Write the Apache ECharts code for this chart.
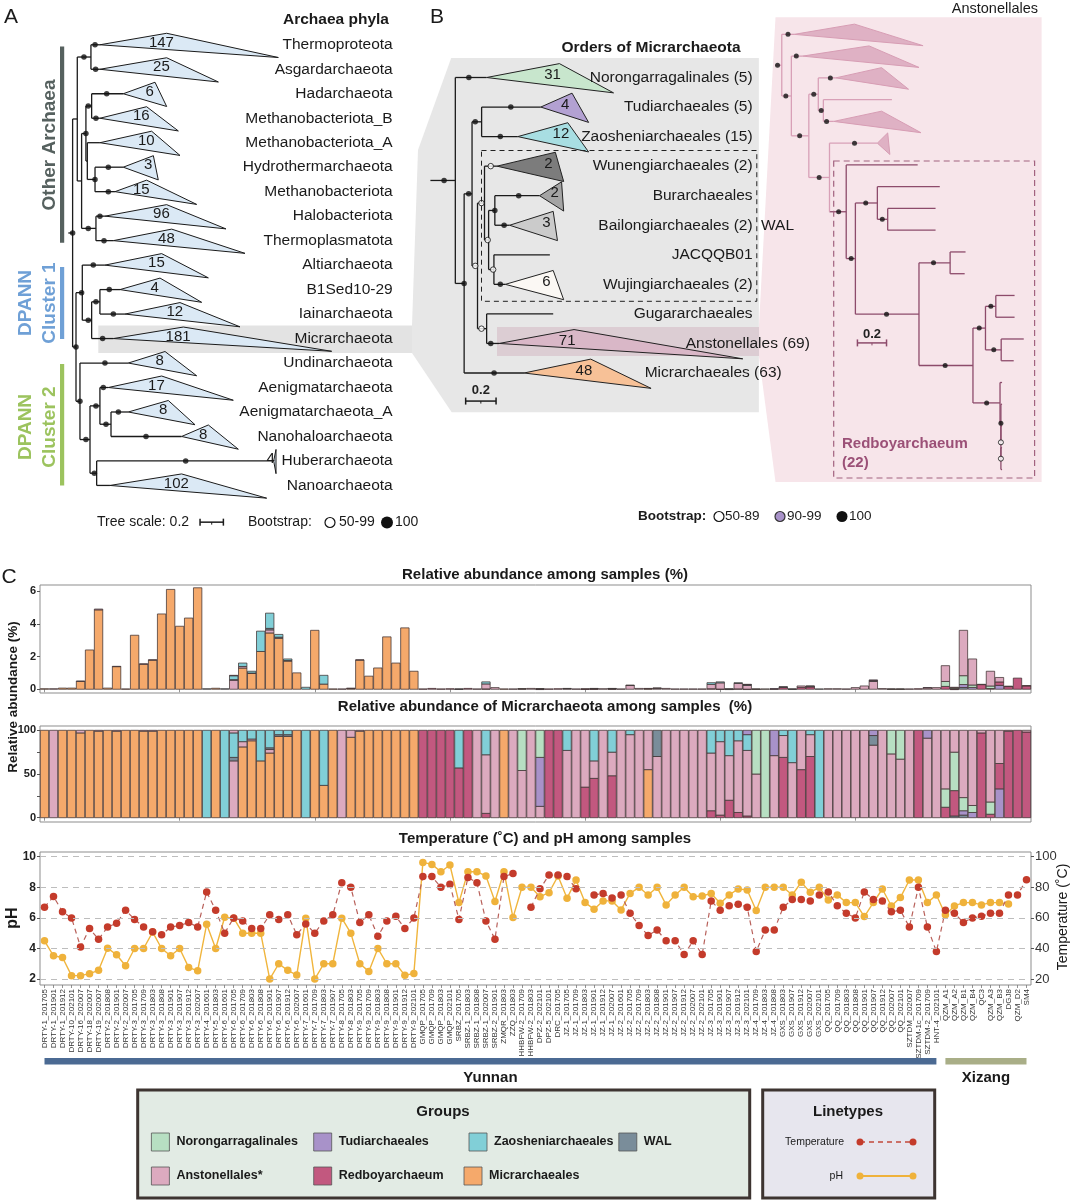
<!DOCTYPE html>
<html>
<head>
<meta charset="utf-8">
<title>Micrarchaeota phylogeny and abundance</title>
<script src="https://cdn.jsdelivr.net/npm/echarts@6.0.0/dist/echarts.min.js"></script>
<style>
html,body{margin:0;padding:0;background:#ffffff;}
#chart{width:1072px;height:1200px;}
</style>
</head>
<body>
<div id="chart"></div>
<script>
// ================= DATA =================
const samples = ['DRTY-1_201705','DRTY-1_201901','DRTY-1_201912','DRTY-10_202101','DRTY-16_202007','DRTY-18_202007','DRTY-19_202007','DRTY-2_201808','DRTY-2_201901','DRTY-2_202007',
'DRTY-3_201705','DRTY-3_201709','DRTY-3_201803','DRTY-3_201808','DRTY-3_201901','DRTY-3_201907','DRTY-3_201912','DRTY-3_202007','DRTY-4_201601','DRTY-5_201803',
'DRTY-6_201601','DRTY-6_201705','DRTY-6_201709','DRTY-6_201803','DRTY-6_201808','DRTY-6_201901','DRTY-6_201907','DRTY-6_201912','DRTY-6_202007','DRTY-7_201601',
'DRTY-7_201709','DRTY-7_201803','DRTY-7_201907','DRTY-8_201705','DRTY-8_201803','DRTY-9_201705','DRTY-9_201709','DRTY-9_201803','DRTY-9_201808','DRTY-9_201901',
'DRTY-9_201912','DRTY-9_202101','GMQP_201705','GMQP_201709','GMQP_201803','GMQP_202101','SRBZ_201705','SRBZ-1_201803','SRBZ-1_201808','SRBZ-1_202007',
'SRBZ-2_201901','ZMQR_201803','ZZQ_201803','HHBFW-2_201709','HHBFW-2_201803','DPZ-2_202101','DPZ-5_202101','DRC_201705','JZ-1_201705','JZ-1_201709',
'JZ-1_201803','JZ-1_201901','JZ-1_201912','JZ-1_202007','JZ-2_201601','JZ-2_201705','JZ-2_201709','JZ-2_201803','JZ-2_201808','JZ-2_201901',
'JZ-2_201907','JZ-2_201912','JZ-2_202007','JZ-2_202101','JZ-3_201705','JZ-3_201901','JZ-3_201907','JZ-3_201912','JZ-3_202101','JZ-4_201709',
'JZ-4_201803','JZ-4_201808','GXS_201803','GXS_201907','GXS_201912','GXS_202007','GXS_202101','QQ_201705','QQ_201709','QQ_201803',
'QQ_201808','QQ_201901','QQ_201907','QQ_201912','QQ_202007','QQ_202101','SZTDM_202007','SZTDM-1c_201709','SZTDM-2_201709','HNT-4_202101',
'QZM_A1','QZM_A2','QZM_B1','QZM_B4','QC3','QZM_A3','QZM_B3','DGJ8','QZM_D2','SM4'];

// Relative abundance of Micrarchaeota among samples (%)
const abundance = [0.03,0.03,0.07,0.07,0.5,2.4,4.9,0.07,1.4,0.02,
 3.3,1.55,1.8,4.6,6.1,3.85,4.35,6.2,0.03,0.06,
 0.03,0.85,1.6,1.1,3.55,4.65,3.35,1.85,1.0,0.12,
 3.6,0.85,0.02,0.02,0.06,1.8,0.8,1.3,3.2,1.6,
 3.75,1.1,0.02,0.05,0.02,0.03,0.02,0.05,0.02,0.45,
 0.1,0.02,0.02,0.04,0.05,0.04,0.02,0.03,0.05,0.02,
 0.03,0.05,0.03,0.05,0.02,0.25,0.05,0.05,0.08,0.05,
 0.02,0.02,0.02,0.02,0.4,0.45,0.02,0.4,0.3,0.02,
 0.02,0.03,0.15,0.02,0.2,0.2,0.02,0.03,0.03,0.02,
 0.1,0.2,0.57,0.04,0.02,0.02,0.02,0.03,0.1,0.1,
 1.44,0.12,3.6,1.85,0.3,1.1,0.72,0.18,0.68,0.22];

// Group composition of each sample (%), listed bottom to top
const composition = [
'M100','A100','M100','M100','M97 A3','M100','M99 A1','M100','M99 A1','M100',
'M100','M99 A1','M99 A1','M100','M100','M100','M100','M100','Z100','M100',
'Z100','A65 W4 Z28 A3','M81 A6 Z13','M88 A2 Z10','M65 Z35','M74 A4 W2 Z20','M93 W2 Z5','M93 W2 Z5','M100','Z100',
'M100','M37 Z63','M100','A100','M92 A8','M99 A1','M100','M100','M100','M100',
'M100','M100','R100','R100','R100','R100','R57 Z43','R100','A100','R5 A67 Z28',
'A100','M100','A100','A54 N46','A100','A13 T56 N31','R100','R100','A77 Z23','A100',
'R35 A65','R45 A20 Z35','A100','R48 A27 Z25','A100','A95 Z5','A100','M55 A45','A70 W30','A100',
'A100','A100','A100','A100','R8 A66 Z26','R3 A84 Z13','R20 A51 Z29','R6 A82 Z12','R2 A75 Z18 T5','A50 N50',
'N100','A71 T29','R69 A25 Z6','A63 Z37','R55 A45','R70 A25 Z5','Z100','A100','A100','A100',
'A100','A100','A83 W11 T6','A100','A73 N27','A67 N33','A100','R100','A91 T9','A100',
'R12 N21 A67','W2 R29 N44 A25','W3 T5 N15 A77','T6 N8 A86','R97 A3','R4 N14 A82','T33 R29 A38','R99 A1','R100','R98 A2'];

const temperature = [67,74,64,60,41,53,46,54,56.5,65,
 59,54,51,49,54,55,57,54,77,65,
 50,60,58,53,53,62,59,62,49,56,
 50,58,62,83,80,57,62,48,58,61,
 53,60,87,87,80,82,59,86.5,83,58,
 46,87,89,null,67,79,88,88,87,79,
 null,75,76,73,75,63,55,48.5,52,45,
 45,36,45,36,71,65,68,69,67,38,
 52,52,67,72,72,71,75,77,68,63,
 60,77,72,71,64,65,54,80,54,38,
 65,63,57,60,61,63,63,75,75,85];

const ph = [4.5,3.52,3.41,2.22,2.22,2.35,2.57,4.02,3.59,2.87,
 4.0,4.0,5.07,4.0,3.52,4.0,2.76,2.54,5.59,4.0,
 6.04,5.98,5.0,5.0,5.0,2.0,3.0,2.57,2.26,5.98,
 2.0,3.0,3.0,5.98,5.0,3.0,2.5,4.0,3.0,3.0,
 2.24,2.37,9.63,9.5,9.02,9.46,7.0,9.02,9.02,8.74,
 7.07,9.02,6.02,8.0,8.0,7.39,7.65,8.74,7.28,8.48,
 7.0,6.57,7.11,7.11,6.52,7.6,8.0,7.5,8.0,6.85,
 7.5,8.0,7.39,7.43,7.6,6.96,7.5,7.89,7.83,6.48,
 8.0,8.0,8.0,7.5,8.33,7.67,8.0,7.17,7.5,7.0,
 7.0,6.09,7.0,7.89,6.78,7.33,8.48,8.48,7.0,7.5,
 6.2,6.78,7.0,7.0,6.85,7.0,7.0,6.91,null,null];

const groupCodes = ['N','T','Z','W','A','R','M'];
const groupNames = ['Norongarragalinales','Tudiarchaeales','Zaosheniarchaeales','WAL','Anstonellales*','Redboyarchaeum','Micrarchaeales'];
const groupColors = ['#b7dfc2','#a892c9','#81cfd7','#7a8d9a','#dcaabf','#c2587f','#f5a96b'];
const regions = ['Yunnan','Xizang'];
const regionSpan = [[0,99],[100,109]];
const regionColors = ['#4b6a93','#a9ae87'];
const phTicks = [2,4,6,8,10];
const tempTicks = [20,40,60,80,100];
const abundTicks = [0,2,4,6];
const pctTicks = [0,50,100];

// ---- Panel A: archaeal phyla tree (branch lengths in substitutions/site, rows top to bottom)
const phylaA = ['Thermoproteota','Asgardarchaeota','Hadarchaeota','Methanobacteriota_B','Methanobacteriota_A','Hydrothermarchaeota','Methanobacteriota','Halobacteriota','Thermoplasmatota','Altiarchaeota','B1Sed10-29','Iainarchaeota','Micrarchaeota','Undinarchaeota','Aenigmatarchaeota','Aenigmatarchaeota_A','Nanohaloarchaeota','Huberarchaeota','Nanoarchaeota'];
const cladeSizeA = [147,25,6,16,10,3,15,96,48,15,4,12,181,8,17,8,8,4,102];
// [support node, clade root, shortest tip, longest tip]
const cladeA = [
 [0.229,0.271,0.843,1.800],[0.234,0.271,0.843,1.286],[0.329,0.471,0.743,0.843],[0.237,0.271,0.671,0.943],
 [null,0.271,0.714,0.957],[0.343,0.471,0.729,0.771],[0.343,0.400,0.671,1.100],[0.271,0.314,0.843,1.351],
 [0.306,0.386,0.886,1.514],[0.214,0.314,0.800,1.200],[0.351,0.443,0.786,1.143],[0.386,0.486,0.957,1.471],
 [0.294,0.386,0.986,2.257],[0.314,0.514,0.829,1.100],[0.300,0.343,0.800,1.414],[0.429,0.514,0.857,1.086],
 [0.666,0.971,1.200,1.457],[1.006,1.760,1.780,1.780],[null,0.357,0.971,1.700]];
const treeA = {x:0.037, dot:0.037, kids:[
  {x:0.077, kids:[
    {x:0.194, dot:0.134, kids:[0,1]},
    {x:0.114, kids:[
      {x:0.151, dot:0.151, kids:[
        {x:0.200, dot:0.171, kids:[2,3]},
        {x:0.163, kids:[4, {x:0.229, dot:0.229, kids:[5,6]}]}]},
      {x:0.237, dot:0.171, kids:[7,8]}]}]},
  {x:0.066, dot:0.066, kids:[
    {x:0.120, dot:0.114, kids:[9, {x:0.200, dot:0.171, kids:[{x:0.271, dot:0.237, kids:[10,11]}, 12]}]},
    {x:0.100, dot:0.100, kids:[13, {x:0.186, dot:0.151, kids:[
      {x:0.271, dot:0.237, kids:[14, {x:0.366, dot:0.323, kids:[15,16]}]},
      {x:0.243, dot:0.223, kids:[17,18]}]}]}]}]};

// ---- Panel B: orders of Micrarchaeota
const ordersB = ['Norongarragalinales (5)','Tudiarchaeales (5)','Zaosheniarchaeales (15)','Wunengiarchaeales (2)','Burarchaeales','Bailongiarchaeales (2)','JACQQB01','Wujingiarchaeales (2)','Gugararchaeales','Anstonellales (69)','Micrarchaeales (63)'];
const cladeSizeB = [31,4,12,2,2,3,null,6,null,71,48];
const cladeFillB = ['#c8e6cd','#b3a1d2','#a8dee2','#7c7c7c','#a4a4a4','#cbcbcb','#ffffff','#fbf8f4','#ffffff','#d9b7c7','#f7c197'];
const cladeB = [
 [0.253,0.370,0.849,1.205],[0.529,0.726,0.932,1.041],[0.460,0.575,0.904,1.041],[0.397,0.438,0.822,0.877],
 [0.581,0.718,0.863,0.877],[0.485,0.521,0.808,0.836],[null,0.786],[0.460,0.493,0.808,0.877],
 [null,0.808],[0.397,0.452,0.945,2.055],[0.419,0.616,1.055,1.452]];
const openLeavesB = [3];
const labelStartB = {9:1.68, 10:1.41};
const treeB = {x:0.164, dot:0.090, kids:[0, {x:0.222, dot:0.222, kids:[
  {x:0.274, dot:0.252, kids:[
    {x:0.337, dot:0.295, kids:[1,2]},
    {x:0.310, dot:0.295, open:true, kids:[
      {x:0.356, dot:0.336, open:true, kids:[3, {x:0.383, dot:0.377, open:true, kids:[{x:0.424, dot:0.424, kids:[4,5]}, {x:0.418, dot:0.413, open:true, kids:[6,7]}]}]},
      {x:0.370, dot:0.336, open:true, kids:[8,9]}]}]}, 10]}]};

// ---- Panel B inset: Anstonellales with Redboyarchaeum (rb)
const cladeP = [
 [0.086,0.129,0.543,1.014],[0.143,0.186,0.643,0.986],[0.377,0.414,0.729,0.914],[null,0.800],
 [0.351,0.400,0.729,1.000],[0.543,0.700,0.771,0.786],[null,0.977],[null,1.129],[null,1.100],[null,1.100],
 [null,1.306],[null,1.300],[null,1.643],[null,1.643],[null,1.706],[null,1.637],
 [null,1.557],[null,1.557],[null,1.557],[null,1.557],[null,1.557]];
const treeP = {x:0.043, dot:0.014, kids:[0, {x:0.109, dot:0.071, kids:[1, {x:0.229, dot:0.166, kids:[
  {x:0.294, dot:0.263, kids:[2, {x:0.329, dot:0.314, kids:[3,4]}]},
  {x:0.371, dot:0.300, kids:[5, {x:0.486, dot:0.434, rb:true, kids:[6, {x:0.549, dot:0.520, kids:[
    {x:0.700, dot:0.620, kids:[7, {x:0.771, dot:0.734, kids:[8,9]}]},
    {x:0.986, dot:0.763, kids:[
      {x:1.200, dot:1.086, kids:[10,11]},
      {x:1.357, dot:1.166, kids:[
        {x:1.443, dot:1.400, kids:[{x:1.514, dot:1.480, kids:[12,13]}, {x:1.551, dot:1.500, kids:[14,15]}]},
        {x:1.543, dot:1.451, kids:[16, {x:1.549, dot:1.549, kids:[17, {x:1.549, dot:1.549, open:true, kids:[18, {x:1.549, dot:1.549, open:true, kids:[19,20]}]}]}]}]}]}]}]}]}]}]}]};

// ================= BUILD =================
const FONT = '"Liberation Sans", Arial, Helvetica, sans-serif';

function layoutTree(tree, clade, openLeaves){
  const segs=[], tris=[], dots=[];
  function walk(n, px, col){
    if (typeof n === 'number'){
      const c = clade[n];
      if (px != null) segs.push([px, n, c[1], n, col]);
      if (c.length > 2 && c[2] != null) tris.push([c[1], n, c[2], c[3], n, col]);
      if (c[0] != null) dots.push([c[0], n, openLeaves.indexOf(n) >= 0 ? 1 : 0]);
      return n;
    }
    const c2 = n.rb ? 1 : col;
    const ys = n.kids.map(k => walk(k, n.x, c2));
    const y = (ys[0] + ys[ys.length-1]) / 2;
    segs.push([n.x, ys[0], n.x, ys[ys.length-1], c2]);
    if (px != null) segs.push([px, y, n.x, y, c2]);
    if (n.dot != null) dots.push([n.dot, y, n.open ? 1 : 0]);
    return y;
  }
  const ry = walk(tree, null, 0);
  segs.push([0, ry, tree.x, ry, 0]);
  return {segs, tris, dots};
}

const LA = layoutTree(treeA, cladeA, []);
const LB = layoutTree(treeB, cladeB, openLeavesB);
const LP = layoutTree(treeP, cladeP, []);

function treeSeries(gi, L, o){
  return [
    {type:'custom', xAxisIndex:gi, yAxisIndex:gi, z:3, silent:true, data:L.segs, encode:{x:[0,2], y:[1,3]},
     renderItem:(p, api) => {
       const a = api.coord([api.value(0), api.value(1)]), b = api.coord([api.value(2), api.value(3)]);
       return {type:'line', shape:{x1:a[0], y1:a[1], x2:b[0], y2:b[1]}, style:{stroke:o.lineColors[api.value(4)], lineWidth:o.lw}};
     }},
    {type:'custom', xAxisIndex:gi, yAxisIndex:gi, z:4, silent:true, data:L.tris, encode:{x:[0,2], y:1},
     renderItem:(p, api) => {
       const r = api.value(1);
       const a = api.coord([api.value(0), r]), t = api.coord([api.value(2), r-0.47]), b = api.coord([api.value(3), r+0.52]);
       return {type:'polygon', shape:{points:[a,t,b]}, style:{fill:o.fill(api.value(4)), stroke:o.triStroke, lineWidth:1}};
     }},
    {type:'scatter', xAxisIndex:gi, yAxisIndex:gi, z:6, silent:true, symbolSize:o.dot,
     data:L.dots.filter(d => !d[2]).map(d => [d[0], d[1]]), itemStyle:{color:'#111'}},
    {type:'scatter', xAxisIndex:gi, yAxisIndex:gi, z:6, silent:true, symbolSize:o.dot,
     data:L.dots.filter(d => d[2]).map(d => [d[0], d[1]]), itemStyle:{color:'#fff', borderColor:'#111', borderWidth:1}}
  ];
}

function nameSeries(gi, names, size, starts){
  return {type:'custom', xAxisIndex:gi, yAxisIndex:gi, z:7, silent:true,
    data:names.map((n, i) => [0, i]), encode:{x:0, y:1},
    renderItem:(p, api) => {
      const cs = p.coordSys, i = p.dataIndex;
      const pt = api.coord([0, api.value(1)]);
      const st = starts && starts[i] != null ? api.coord([starts[i], 0])[0] : null;
      return {type:'text', x: st != null ? st : cs.x + cs.width, y: pt[1],
        style:{text:names[i], fill:'#1a1a1a', fontSize:size, fontFamily:FONT, align: st != null ? 'left' : 'right', verticalAlign:'middle'}};
    }};
}

function countSeries(gi, L, sizes, fsz){
  const data = L.tris.map(t => [t[2] - 0.045, t[1] - 0.08, sizes[t[4]]]);
  return {type:'custom', xAxisIndex:gi, yAxisIndex:gi, z:7, silent:true, data, encode:{x:0, y:1},
    renderItem:(p, api) => {
      const pt = api.coord([api.value(0), api.value(1)]);
      return {type:'text', x:pt[0], y:pt[1], style:{text:String(data[p.dataIndex][2]), fill:'#1a1a1a', fontSize:fsz, fontFamily:FONT, align:'center', verticalAlign:'middle'}};
    }};
}

function scaleBar(gi, x0, x1, row, labelRow, color){
  return {type:'custom', xAxisIndex:gi, yAxisIndex:gi, z:7, silent:true, data:[[x0, row, x1]], encode:{x:[0,2], y:1},
    renderItem:(p, api) => {
      const a = api.coord([api.value(0), api.value(1)]), b = api.coord([api.value(2), api.value(1)]);
      const ch = [
        {type:'line', shape:{x1:a[0], y1:a[1], x2:b[0], y2:b[1]}, style:{stroke:color, lineWidth:1.5}},
        {type:'line', shape:{x1:a[0], y1:a[1]-3.5, x2:a[0], y2:a[1]+3.5}, style:{stroke:color, lineWidth:1.5}},
        {type:'line', shape:{x1:b[0], y1:b[1]-3.5, x2:b[0], y2:b[1]+3.5}, style:{stroke:color, lineWidth:1.5}},
        {type:'line', shape:{x1:(a[0]+b[0])/2, y1:a[1], x2:(a[0]+b[0])/2, y2:a[1]+2.5}, style:{stroke:color, lineWidth:1}}];
      if (labelRow != null){
        const l = api.coord([(x0 + x1)/2, labelRow]);
        ch.push({type:'text', x:l[0], y:l[1], style:{text:'0.2', fontWeight:'bold', fontSize:13, fontFamily:FONT, fill:'#222', align:'center', verticalAlign:'middle'}});
      }
      return {type:'group', children:ch};
    }};
}

// stacked composition segments
const segPct = [], segAbs = [];
composition.forEach((s, i) => {
  const toks = s.split(' ').map(t => [groupCodes.indexOf(t[0]), +t.slice(1)]);
  const tot = toks.reduce((a, t) => a + t[1], 0);
  let acc = 0;
  toks.forEach(t => {
    const v = t[1] / tot * 100;
    segPct.push([i, acc, acc + v, t[0]]);
    segAbs.push([i, acc * abundance[i] / 100, (acc + v) * abundance[i] / 100, t[0]]);
    acc += v;
  });
});

function barSeries(gi, data){
  return {type:'custom', xAxisIndex:gi, yAxisIndex:gi, z:3, silent:true, data, encode:{x:0, y:[1,2]},
    renderItem:(p, api) => {
      const i = api.value(0);
      const a = api.coord([i, api.value(2)]), b = api.coord([i, api.value(1)]);
      const w = api.size([1, 0])[0];
      return {type:'rect', shape:{x:a[0]-w/2+0.3, y:a[1], width:w-0.6, height:Math.max(b[1]-a[1], 0.4)},
        style:{fill:groupColors[api.value(3)], stroke:'#3f3132', lineWidth:0.75}};
    }};
}

const catX = (gi, labels) => ({gridIndex:gi, type:'category', data:samples, boundaryGap:true,
  axisLine:{show:false}, splitLine:{show:false},
  axisTick:{show:true, alignWithLabel:true, length:3, lineStyle:{color:'#777', width:0.8}},
  axisLabel: labels ? {show:true, rotate:90, interval:0, fontSize:8, color:'#333', margin:4, fontFamily:FONT} : {show:false}});

const hidden = gi => ({gridIndex:gi, type:'value', show:false});

const option = {
  animation:false,
  backgroundColor:'#ffffff',
  grid:[
    {left:68.3, top:20.3, width:324.4, height:514.1},
    {left:430.4, top:47.95, width:322.2, height:354.6},
    {left:775.5, top:12.6, width:266, height:478.7},
    {left:40, top:585, width:991, height:108, show:true, borderColor:'#8d8d8d', borderWidth:1},
    {left:40, top:726, width:991, height:96, show:true, borderColor:'#8d8d8d', borderWidth:1},
    {left:40, top:852, width:991, height:133, show:true, borderColor:'#8d8d8d', borderWidth:1}
  ],
  xAxis:[
    Object.assign(hidden(0), {min:0, max:2.78}),
    Object.assign(hidden(1), {min:0, max:2.12}),
    Object.assign(hidden(2), {min:0, max:1.828}),
    catX(3, false), catX(4, false), catX(5, true)
  ],
  yAxis:[
    Object.assign(hidden(0), {min:-1, max:20, inverse:true}),
    Object.assign(hidden(1), {min:-1, max:11, inverse:true}),
    Object.assign(hidden(2), {min:-1, max:21, inverse:true}),
    {gridIndex:3, type:'value', min:-0.23, max:6.37, axisLine:{show:false}, splitLine:{show:false},
     axisTick:{show:true, length:3, customValues:abundTicks, lineStyle:{color:'#555'}},
     axisLabel:{customValues:abundTicks, fontWeight:'bold', fontSize:11, color:'#222', margin:4, fontFamily:FONT}},
    {gridIndex:4, type:'value', min:-4.9, max:104.9, axisLine:{show:false}, splitLine:{show:false},
     axisTick:{show:true, length:3, customValues:[0,25,50,75,100], lineStyle:{color:'#555'}},
     axisLabel:{customValues:pctTicks, fontWeight:'bold', fontSize:11, color:'#222', margin:4, fontFamily:FONT}},
    {gridIndex:5, type:'value', min:1.61, max:10.31, axisLine:{show:false}, splitLine:{show:false},
     axisTick:{show:true, length:3, customValues:phTicks, lineStyle:{color:'#555'}},
     axisLabel:{customValues:phTicks, fontWeight:'bold', fontSize:12, color:'#222', margin:4, fontFamily:FONT}},
    {gridIndex:5, type:'value', position:'right', min:16.1, max:103.1, axisLine:{show:false}, splitLine:{show:false},
     axisTick:{show:true, length:3, customValues:tempTicks, lineStyle:{color:'#555'}},
     axisLabel:{customValues:tempTicks, fontSize:13, color:'#333', margin:4, fontFamily:FONT}}
  ],
  series:[
    ...treeSeries(0, LA, {lineColors:['#1b1b1b','#1b1b1b'], lw:1.3, fill:() => '#dbe9f5', triStroke:'#1b1b1b', dot:5.5}),
    nameSeries(0, phylaA, 15.5, null),
    countSeries(0, LA, cladeSizeA, 15),
    scaleBar(0, 1.129, 1.329, 19.5, null, '#1b1b1b'),
    ...treeSeries(1, LB, {lineColors:['#1b1b1b','#1b1b1b'], lw:1.3, fill:i => cladeFillB[i], triStroke:'#222', dot:5.5}),
    nameSeries(1, ordersB, 15.5, labelStartB),
    countSeries(1, LB, cladeSizeB, 15),
    scaleBar(1, 0.232, 0.432, 10.95, 10.6, '#1b1b1b'),
    ...treeSeries(2, LP, {lineColors:['#d8a0b7','#8d4b6b'], lw:1.3, fill:() => '#dfb1c4', triStroke:'#d79db4', dot:5}),
    scaleBar(2, 0.563, 0.763, 14.18, 13.77, '#8d4b6b'),
    barSeries(3, segAbs),
    barSeries(4, segPct),
    {type:'line', xAxisIndex:5, yAxisIndex:5, z:3, data:ph, symbol:'circle', symbolSize:7.5, connectNulls:false,
     lineStyle:{color:'#f0b53d', width:1.4}, itemStyle:{color:'#efb23b'},
     markLine:{silent:true, symbol:'none', label:{show:false}, lineStyle:{type:[6,5], color:'#bdbdbd', width:1.1},
       data:phTicks.map(v => ({yAxis:v}))}},
    {type:'line', xAxisIndex:5, yAxisIndex:6, z:4, data:temperature, symbol:'circle', symbolSize:7.5, connectNulls:false,
     lineStyle:{color:'#b8605a', width:1.2, type:[5,4]}, itemStyle:{color:'#c43b2b'}},
    {type:'custom', xAxisIndex:5, yAxisIndex:5, z:5, silent:true, data:regionSpan.map((r, k) => [r[0], r[1], k]), encode:{x:[0,1], y:2},
     renderItem:(p, api) => {
       const cs = p.coordSys, k = api.value(2);
       const a = api.coord([api.value(0), 5]), b = api.coord([api.value(1), 5]);
       const y0 = cs.y + cs.height + 73;
       return {type:'group', children:[
         {type:'rect', shape:{x:a[0], y:y0, width:b[0]-a[0], height:6.5}, style:{fill:regionColors[k]}},
         {type:'text', x:(a[0]+b[0])/2, y:y0+20, style:{text:regions[k], fontWeight:'bold', fontSize:15, fontFamily:FONT, fill:'#1a1a1a', align:'center', verticalAlign:'middle'}}]};
     }}
  ],
  graphic:[]
};

// ---------- annotations ----------
const G = option.graphic;
const txt = (x, y, text, o) => { o = o || {}; return {type:'text', x, y, z:50, rotation:o.rot || 0,
  style:{text, fill:o.color || '#1a1a1a', fontSize:o.size || 14, fontWeight:o.bold ? 'bold' : 'normal', fontFamily:FONT, align:o.align || 'center', verticalAlign:'middle'}}; };
const rect = (x, y, w, h, fill, z) => ({type:'rect', z:z == null ? 0 : z, shape:{x, y, width:w, height:h}, style:{fill}});
const circ = (cx, cy, r, fill, stroke) => ({type:'circle', z:50, shape:{cx, cy, r}, style:{fill, stroke:stroke || null, lineWidth:1.2}});

// highlight regions
G.push(rect(98.3, 325.4, 314, 27.6, '#e3e3e3'));
G.push({type:'polygon', z:0, shape:{points:[[412,325.4],[418,150],[451.2,57.9],[758.9,57.9],[758.9,412.2],[451.7,412.2],[412,353]]}, style:{fill:'#e7e7e7'}});
G.push({type:'polygon', z:0, shape:{points:[[758.9,327],[775.5,17.2],[1041.6,17.2],[1041.6,482],[775.5,482],[758.9,356]]}, style:{fill:'#f7e5ea'}});
G.push(rect(497, 327, 262, 29, '#dccdd3', 1));
G.push({type:'rect', z:8, shape:{x:481.5, y:150.5, width:275.3, height:150.8}, style:{fill:null, stroke:'#222', lineWidth:1, lineDash:[5,4]}});
G.push({type:'rect', z:8, shape:{x:833.7, y:161, width:200.9, height:317}, style:{fill:null, stroke:'#a2627f', lineWidth:1.2, lineDash:[6,4]}});

// panel letters and titles
G.push(txt(11, 17, 'A', {size:21}));
G.push(txt(437, 17, 'B', {size:21}));
G.push(txt(9, 577, 'C', {size:21}));
G.push(txt(336, 20, 'Archaea phyla', {bold:true, size:15.5}));
G.push(txt(651, 48, 'Orders of Micrarchaeota', {bold:true, size:15.5}));
G.push(txt(761, 225.5, 'WAL', {size:15.5, align:'left'}));
G.push(txt(1038, 9, 'Anstonellales', {size:14.5, align:'right'}));
G.push(txt(842, 444, 'Redboyarchaeum', {bold:true, size:15, color:'#9b5077', align:'left'}));
G.push(txt(842, 463, '(22)', {bold:true, size:15, color:'#9b5077', align:'left'}));

// cluster bars
G.push(rect(60, 46.5, 4.2, 196.3, '#56615f', 50));
G.push(rect(60, 267, 4.2, 72, '#6fa0d6', 50));
G.push(rect(60, 364, 4.2, 121.5, '#9cc35e', 50));
G.push(txt(50, 145, 'Other Archaea', {bold:true, size:19, color:'#56615f', rot:Math.PI/2}));
G.push(txt(26, 303, 'DPANN', {bold:true, size:19, color:'#6fa0d6', rot:Math.PI/2}));
G.push(txt(50, 303, 'Cluster 1', {bold:true, size:19, color:'#6fa0d6', rot:Math.PI/2}));
G.push(txt(26, 427, 'DPANN', {bold:true, size:19, color:'#9cc35e', rot:Math.PI/2}));
G.push(txt(50, 427, 'Cluster 2', {bold:true, size:19, color:'#9cc35e', rot:Math.PI/2}));

// bootstrap legends
G.push(txt(97, 522.5, 'Tree scale: 0.2', {size:14, align:'left'}));
G.push(txt(248, 522.5, 'Bootstrap:', {size:14, align:'left'}));
G.push(circ(330, 522.5, 5, '#fff', '#111'));
G.push(txt(339, 522.5, '50-99', {size:14, align:'left'}));
G.push(circ(387, 522.5, 6, '#111'));
G.push(txt(395, 522.5, '100', {size:14, align:'left'}));
G.push(txt(638, 516.5, 'Bootstrap:', {size:13.5, bold:true, align:'left'}));
G.push(circ(719, 516.5, 5, '#fff', '#111'));
G.push(txt(725, 516.5, '50-89', {size:13.5, align:'left'}));
G.push(circ(780, 516.5, 5, '#a892c9', '#333'));
G.push(txt(787, 516.5, '90-99', {size:13.5, align:'left'}));
G.push(circ(842, 516.5, 5.5, '#111'));
G.push(txt(849, 516.5, '100', {size:13.5, align:'left'}));

// panel C titles
G.push(txt(545, 575, 'Relative abundance among samples (%)', {bold:true, size:15}));
G.push(txt(545, 707, 'Relative abundance of Micrarchaeota among samples  (%)', {bold:true, size:15}));
G.push(txt(545, 839, 'Temperature (˚C) and pH among samples', {bold:true, size:15}));
G.push(txt(13, 697, 'Relative abundance (%)', {bold:true, size:13.5, rot:Math.PI/2}));
G.push(txt(13, 918, 'pH', {bold:true, size:16, rot:Math.PI/2}));
G.push(txt(1063, 917, 'Temperature (˚C)', {size:14, rot:Math.PI/2}));

// legend boxes
G.push({type:'rect', z:40, shape:{x:137.7, y:1090, width:612, height:108}, style:{fill:'#e2ebe4', stroke:'#3d3431', lineWidth:3}});
G.push({type:'rect', z:40, shape:{x:762.7, y:1090, width:172, height:108}, style:{fill:'#e7e6ee', stroke:'#3d3431', lineWidth:3}});
G.push(txt(443, 1112, 'Groups', {bold:true, size:15}));
G.push(txt(848, 1112, 'Linetypes', {bold:true, size:15}));
const legendSlots = [[0,151.4,1142],[1,313.7,1142],[2,469,1142],[3,618.8,1142],[4,151.4,1176],[5,313.7,1176],[6,464,1176]];
legendSlots.forEach(s => {
  G.push({type:'rect', z:50, shape:{x:s[1], y:s[2]-9, width:18, height:18}, style:{fill:groupColors[s[0]], stroke:'#555', lineWidth:0.8}});
  G.push(txt(s[1]+25, s[2], groupNames[s[0]], {bold:true, size:12.5, align:'left'}));
});
G.push(txt(844, 1142, 'Temperature', {size:10.5, align:'right'}));
G.push({type:'line', z:50, shape:{x1:860, y1:1142, x2:913, y2:1142}, style:{stroke:'#c2493b', lineWidth:1.6, lineDash:[5,4]}});
G.push(circ(860, 1142, 3.5, '#c43b2b'));
G.push(circ(913, 1142, 3.5, '#c43b2b'));
G.push(txt(843, 1176, 'pH', {size:10.5, align:'right'}));
G.push({type:'line', z:50, shape:{x1:860, y1:1176, x2:913, y2:1176}, style:{stroke:'#efb23b', lineWidth:2}});
G.push(circ(860, 1176, 3.5, '#efb23b'));
G.push(circ(913, 1176, 3.5, '#efb23b'));

const chart = echarts.init(document.getElementById('chart'), null, {renderer:'canvas', width:1072, height:1200});
chart.setOption(option);
</script>
</body>
</html>
